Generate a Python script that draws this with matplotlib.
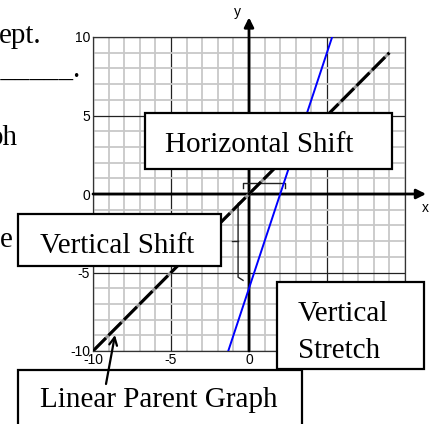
import matplotlib
matplotlib.use("Agg")
import matplotlib.pyplot as plt
from matplotlib.patches import Rectangle
from matplotlib.ticker import MultipleLocator

# ---- data ----
parent_x = [-10, 9]
parent_y = [-10, 9]
stretch_x = [-1.33, 5.33]
stretch_y = [-10, 10]
x_ticks = [-10, -5, 0, 5, 10]
y_ticks = [-10, -5, 0, 5, 10]
x_tick_labels = ["-10", "-5", "0", "", ""]   # 5 and 10 are hidden behind the callout box
y_tick_labels = ["-10", "-5", "0", "5", "10"]

W, H = 434, 424
fig = plt.figure(figsize=(W / 100, H / 100), dpi=100)
fig.patch.set_facecolor("white")

# main plot axes (pixel box 93..405 x, 37..351 y)
L, R, T, B = 93, 405, 37, 351
ax = fig.add_axes([L / W, (H - B) / H, (R - L) / W, (B - T) / H])
ax.set_xlim(-10, 10)
ax.set_ylim(-10, 10)
ax.xaxis.set_minor_locator(MultipleLocator(1))
ax.yaxis.set_minor_locator(MultipleLocator(1))
ax.set_xticks(x_ticks)
ax.set_yticks(y_ticks)
ax.set_xticklabels(x_tick_labels, fontfamily="Liberation Sans", fontsize=10)
ax.set_yticklabels(y_tick_labels, fontfamily="Liberation Sans", fontsize=10)
ax.tick_params(which="both", length=0)
ax.tick_params(axis="x", pad=1.5)
ax.tick_params(axis="y", pad=2.2)
ax.grid(which="minor", color="#c8c8c8", lw=1.3, zorder=0)
ax.grid(which="major", color="#222222", lw=0.9, zorder=0.5)
ax.set_axisbelow(True)
for s in ax.spines.values():
    s.set_color("#333333")
    s.set_linewidth(0.9)

# axes with arrows
ax.annotate("", xy=(11.35, 0), xytext=(-10, 0),
            arrowprops=dict(arrowstyle="-|>", lw=2.0, color="black", mutation_scale=14,
                            shrinkA=0, shrinkB=0),
            annotation_clip=False, zorder=3)
ax.annotate("", xy=(0, 11.25), xytext=(0, -10),
            arrowprops=dict(arrowstyle="-|>", lw=2.0, color="black", mutation_scale=14,
                            shrinkA=0, shrinkB=0),
            annotation_clip=False, zorder=3)
ax.text(11.3, -0.9, "x", fontfamily="Liberation Sans", fontsize=10,
        ha="center", va="center", clip_on=False)
ax.text(-0.75, 11.6, "y", fontfamily="Liberation Sans", fontsize=10,
        ha="center", va="center", clip_on=False)

# parent graph (dashed black over gray)
ax.plot(parent_x, parent_y, color="#9a9a9a", lw=2.2, zorder=4, solid_capstyle="butt")
ax.plot(parent_x, parent_y, color="black", lw=2.2, zorder=5,
        dashes=(6, 1.2), solid_capstyle="butt")
# vertically stretched / shifted graph
ax.plot(stretch_x, stretch_y, color="#0000ff", lw=1.4, zorder=5)

# brackets
hb_y, hb_x0, hb_x1 = 0.68, -0.38, 2.3
ax.plot([hb_x0, hb_x0, hb_x1, hb_x1], [hb_y - 0.3, hb_y, hb_y, hb_y - 0.3],
        color="#222222", lw=1.0, zorder=4)
vb_x, vb_y0, vb_y1, vb_mid = -0.7, -0.4, -5.5, -3.0
ax.plot([vb_x + 0.32, vb_x, vb_x, vb_x + 0.32], [vb_y0, vb_y0 - 0.2, vb_y1 + 0.2, vb_y1],
        color="#222222", lw=1.0, zorder=4)
ax.plot([vb_x, vb_x - 0.4], [vb_mid, vb_mid], color="#222222", lw=1.0, zorder=4)

# overlay axes in pixel coordinates for worksheet text and callout boxes
ov = fig.add_axes([0, 0, 1, 1])
ov.set_xlim(0, W)
ov.set_ylim(H, 0)
ov.axis("off")
ov.patch.set_alpha(0)

serif = "Liberation Serif"
fs = 21

# background worksheet fragments
ov.text(-1, 43, "ept.", fontfamily=serif, fontsize=fs, ha="left", va="baseline")
ov.text(81, 77, "__________.", fontfamily=serif, fontsize=fs, ha="right", va="baseline")
ov.text(17.5, 145, "ph", fontfamily=serif, fontsize=fs, ha="right", va="baseline")
ov.text(12.5, 247, "e", fontfamily=serif, fontsize=fs, ha="right", va="baseline")

def box(x0, y0, x1, y1):
    ov.add_patch(Rectangle((x0, y0), x1 - x0, y1 - y0, facecolor="white",
                           edgecolor="black", lw=1.6, zorder=5))

box(145, 113, 392, 169)
ov.text(165, 152, "Horizontal Shift", fontfamily=serif, fontsize=fs,
        ha="left", va="baseline", zorder=6)

box(18, 214, 221, 266)
ov.text(40, 253, "Vertical Shift", fontfamily=serif, fontsize=fs,
        ha="left", va="baseline", zorder=6)

box(277, 282, 424, 369)
ov.text(298, 321, "Vertical", fontfamily=serif, fontsize=fs,
        ha="left", va="baseline", zorder=6)
ov.text(298, 358, "Stretch", fontfamily=serif, fontsize=fs,
        ha="left", va="baseline", zorder=6)

box(18, 370, 302, 440)
ov.text(40, 407, "Linear Parent Graph", fontfamily=serif, fontsize=fs,
        ha="left", va="baseline", zorder=6)

ov.annotate("", xy=(115, 335), xytext=(106, 384),
            arrowprops=dict(arrowstyle="->", lw=1.6, color="black",
                            mutation_scale=14, shrinkA=0, shrinkB=0), zorder=7)

fig.savefig("out.png", dpi=100)
